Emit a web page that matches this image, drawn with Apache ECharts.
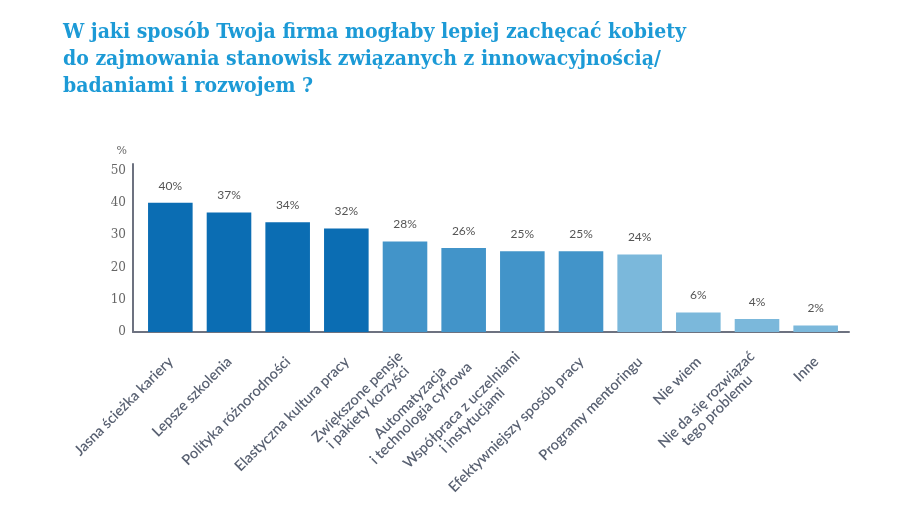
<!DOCTYPE html>
<html>
<head>
<meta charset="utf-8">
<script src="https://cdn.jsdelivr.net/npm/echarts@6/dist/echarts.min.js"></script>
<style>html,body{margin:0;padding:0;background:#fff;}#c{width:920px;height:511px;}</style>
</head>
<body>
<div id="c"></div>
<script>
const categories = [
  "Jasna ścieżka kariery",
  "Lepsze szkolenia",
  "Polityka różnorodności",
  "Elastyczna kultura pracy",
  "Zwiększone pensje\ni pakiety korzyści",
  "Automatyzacja\ni technologia cyfrowa",
  "Współpraca z uczelniami\ni instytucjami",
  "Efektywniejszy sposób pracy",
  "Programy mentoringu",
  "Nie wiem",
  "Nie da się rozwiązać\ntego problemu",
  "Inne"
];
const values = [40, 37, 34, 32, 28, 26, 25, 25, 24, 6, 4, 2];
const yTicks = [0, 10, 20, 30, 40, 50];
const barColors = ["#0b6db3","#0b6db3","#0b6db3","#0b6db3",
                   "#4294c9","#4294c9","#4294c9","#4294c9",
                   "#7bb8db","#7bb8db","#7bb8db","#7bb8db"];

const axisGray = '#6d7280';
const chart = echarts.init(document.getElementById('c'));
chart.setOption({
  animation: false,
  backgroundColor: '#fff',
  title: {
    text: 'W jaki sposób Twoja firma mogłaby lepiej zachęcać kobiety\ndo zajmowania stanowisk związanych z innowacyjnością/\nbadaniami i rozwojem ?',
    left: 58, top: 14,
    textStyle: {fontFamily: "'DejaVu Serif Condensed', 'DejaVu Serif'", fontSize: 21, fontWeight: 'bold', color: '#1c9ad6', lineHeight: 27}
  },
  grid: [
    {left: 133, right: 71, top: 164, bottom: 179, containLabel: false},
    {left: 141, right: 75, top: 164, bottom: 179, containLabel: false}
  ],
  xAxis: [
    {
      gridIndex: 0, type: 'value', min: 0, max: 1,
      axisLine: {show: true, lineStyle: {color: axisGray, width: 2}},
      axisTick: {show: false}, axisLabel: {show: false}, splitLine: {show: false}
    },
    {
      gridIndex: 1, type: 'category', data: categories,
      axisLine: {show: false}, axisTick: {show: false},
      axisLabel: {
        interval: 0, rotate: 45, margin: 27, padding: [1, 0, 0, 0],
        fontFamily: 'Lato', fontSize: 14.5, fontWeight: 600, color: '#596172', lineHeight: 15,
        formatter: function (v) { return v.split('\n').map(s => '{c|' + s + '}').join('\n'); },
        rich: {c: {align: 'center', fontFamily: 'Lato', fontSize: 14.5, fontWeight: 600, color: '#596172', lineHeight: 15}}
      }
    }
  ],
  yAxis: [
    {
      gridIndex: 0, type: 'value', min: 0, max: 52, interval: 10,
      name: '%', nameLocation: 'end', nameGap: 7,
      nameTextStyle: {color: '#666', fontSize: 11, fontFamily: 'DejaVu Serif', align: 'right', padding: [0, 6, 0, 0]},
      axisLine: {show: true, lineStyle: {color: axisGray, width: 2}},
      axisTick: {show: false},
      splitLine: {show: false},
      axisLabel: {
        fontFamily: 'DejaVu Serif', fontSize: 12, color: '#666', margin: 7,
        formatter: function (v) { return yTicks.indexOf(v) >= 0 ? String(v) : ''; }
      }
    },
    {
      gridIndex: 1, type: 'value', min: 0, max: 52,
      show: false, splitLine: {show: false}
    }
  ],
  series: [{
    type: 'bar', xAxisIndex: 1, yAxisIndex: 1,
    data: values.map((v, i) => ({value: v, itemStyle: {color: barColors[i]}})),
    barWidth: '76%',
    label: {
      show: true, position: 'top', distance: 11,
      formatter: '{c}%',
      fontFamily: 'Lato', fontSize: 12, color: '#555'
    }
  }]
});
</script>
</body>
</html>
